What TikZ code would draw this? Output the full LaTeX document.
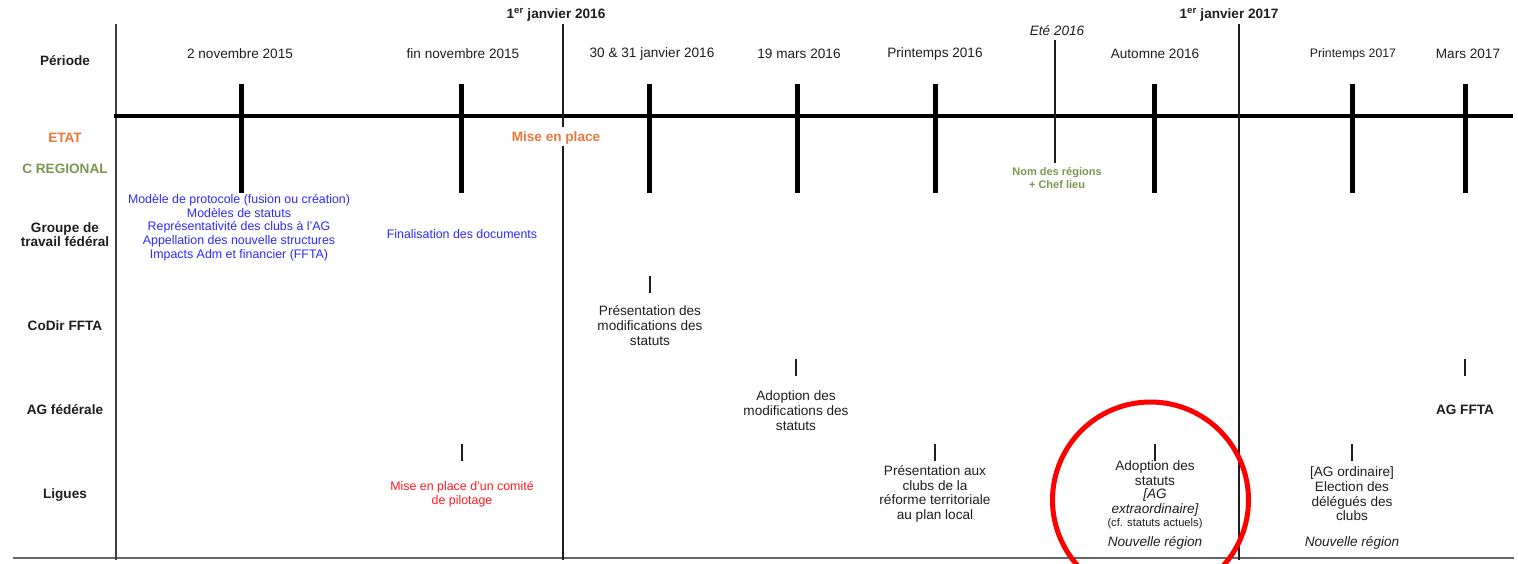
\documentclass[tikz,border=0pt]{standalone}
\usepackage{fontspec}
\setmainfont{Liberation Sans}
\definecolor{etatorange}{RGB}{233,120,58}
\definecolor{regiongreen}{RGB}{125,150,78}
\definecolor{groupblue}{RGB}{45,40,255}
\definecolor{ligred}{RGB}{255,25,35}
\definecolor{circred}{RGB}{255,0,0}
\definecolor{ink}{RGB}{30,30,30}
\begin{document}
\begin{tikzpicture}[x=1pt,y=-1pt,
  rowlbl/.style={font=\fontsize{13.6}{14.7}\selectfont\bfseries, text=ink, align=center, inner sep=0},
  datelbl/.style={font=\fontsize{13.6}{14.7}\selectfont, text=ink, inner sep=0},
  bigtxt/.style={font=\fontsize{13.6}{14.7}\selectfont, text=ink, align=center, inner sep=0},
  smalltxt/.style={font=\fontsize{12.4}{13.7}\selectfont, align=center, inner sep=0},
  greentxt/.style={font=\fontsize{11}{12.2}\selectfont\bfseries, text=regiongreen, align=center, inner sep=0},
  timeline/.style={line width=4pt, black},
  bigtick/.style={line width=5pt, black},
  yearline/.style={line width=1.4pt, ink},
  smalltick/.style={line width=1.4pt, ink},
  frame/.style={line width=2pt, black!60}
]
\useasboundingbox (0,0) rectangle (1518,563);

% frame lines
\coordinate (vl-top) at (116,24);
\coordinate (vl-bot) at (116,560);
\coordinate (bl-l) at (13,558);
\coordinate (bl-r) at (1514,558);
\draw[frame] (bl-l) -- (bl-r);
\draw[line width=1.6pt, black!75] (vl-top) -- (vl-bot);

% year lines
\coordinate (y16-top) at (563,24);
\coordinate (y16-bot) at (563,560);
\coordinate (y17-top) at (1239,24);
\coordinate (y17-bot) at (1239,560);

% main timeline
\coordinate (tl-l) at (114,116);
\coordinate (tl-r) at (1513,116);
\draw[timeline] (tl-l) -- (tl-r);

% Mise en place (drawn with white background to interrupt year line)
\node[font=\fontsize{13.6}{14.7}\selectfont\bfseries, text=etatorange, inner sep=0] (mise) at (556,138) {Mise en place};
\draw[yearline] (y16-top) -- ++(0,103);
\draw[yearline] (563,146) -- (y16-bot);
\draw[yearline] (y17-top) -- (y17-bot);

% big ticks
\foreach \n/\x in {t1/241,t2/461,t3/649,t4/797,t5/935,t6/1154,t7/1352,t8/1465}{
  \coordinate (\n-a) at (\x,84);
  \coordinate (\n-b) at (\x,193);
  \draw[bigtick] (\n-a) -- (\n-b);
}
% Ete 2016 line
\coordinate (ete-a) at (1055,40);
\coordinate (ete-b) at (1055,163);
\draw[yearline] (ete-a) -- (ete-b);

% small ticks
\foreach \n/\x/\ya in {s1/650/276,s2/796/359,s3/462/444,s4/935/444,s5/1155/444,s6/1352/444,s7/1465/359}{
  \coordinate (\n-a) at (\x,\ya);
  \coordinate (\n-b) at (\x,\ya+17);
  \draw[smalltick] (\n-a) -- (\n-b);
}

% row labels
\node[rowlbl] (r-periode) at (65,61) {Période};
\node[rowlbl, text=etatorange] (r-etat) at (65,138) {ETAT};
\node[rowlbl, text=regiongreen] (r-creg) at (65,169) {C REGIONAL};
\node[rowlbl] (r-groupe) at (65,234.5) {Groupe de\\travail fédéral};
\node[rowlbl] (r-codir) at (65,326) {CoDir FFTA};
\node[rowlbl] (r-ag) at (65,410) {AG fédérale};
\node[rowlbl] (r-ligues) at (65,495) {Ligues};

% top labels
\node[rowlbl] (jan16) at (556,15) {1\textsuperscript{er} janvier 2016};
\node[rowlbl] (jan17) at (1229,15) {1\textsuperscript{er} janvier 2017};
\node[datelbl, font=\fontsize{13.6}{14.7}\selectfont\itshape] (ete) at (1057,31) {Eté 2016};

\node[datelbl] (d1) at (240,54) {2 novembre 2015};
\node[datelbl] (d2) at (463,54) {fin novembre 2015};
\node[datelbl] (d3) at (652,54) {30 \& 31 janvier 2016};
\node[datelbl] (d4) at (799,54) {19 mars 2016};
\node[datelbl] (d5) at (935,54) {Printemps 2016};
\node[datelbl] (d6) at (1155,54) {Automne 2016};
\node[datelbl, font=\fontsize{12.3}{13.6}\selectfont] (d7) at (1353,54) {Printemps 2017};
\node[datelbl] (d8) at (1468,54) {Mars 2017};

% C regional
\node[greentxt] (nomreg) at (1057,178) {Nom des régions\\+ Chef lieu};

% Groupe de travail
\node[smalltxt, text=groupblue] (gt1) at (239,227.5) {Modèle de protocole (fusion ou création)\\Modèles de statuts\\Représentativité des clubs à l'AG\\Appellation des nouvelle structures\\Impacts Adm et financier (FFTA)};
\node[smalltxt, text=groupblue] (gt2) at (462,234) {Finalisation des documents};

% CoDir
\node[bigtxt] (codir1) at (650,325.5) {Présentation des\\modifications des\\statuts};

% AG federale
\node[bigtxt] (ag1) at (796,410.5) {Adoption des\\modifications des\\statuts};
\node[rowlbl] (agffta) at (1465,410) {AG FFTA};

% Ligues
\node[smalltxt, text=ligred] (lig1) at (462,494) {Mise en place d'un comité\\de pilotage};
\node[bigtxt] (lig2) at (935,494) {Présentation aux\\clubs de la\\réforme territoriale\\au plan local};
\node[bigtxt] (lig3a) at (1155,473) {Adoption des\\statuts};
\node[bigtxt, font=\fontsize{13.6}{14.7}\selectfont\itshape] (lig3b) at (1155,502.5) {[AG\\extraordinaire]};
\node[smalltxt, font=\fontsize{11.2}{12}\selectfont, text=ink] (lig3c) at (1155,524) {(cf. statuts actuels)};
\node[bigtxt, font=\fontsize{13.6}{14.7}\selectfont\itshape] (lig3d) at (1155,543) {Nouvelle région};
\node[bigtxt] (lig4) at (1352,494) {[AG ordinaire]\\Election des\\délégués des\\clubs};
\node[bigtxt, font=\fontsize{13.6}{14.7}\selectfont\itshape] (lig4d) at (1352,543) {Nouvelle région};

% red circle
\draw[circred, line width=5pt] (1150.5,500) circle[radius=98];
\end{tikzpicture}
\end{document}
